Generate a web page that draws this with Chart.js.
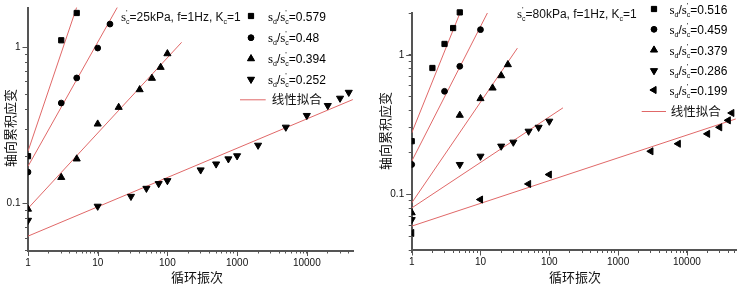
<!DOCTYPE html>
<html>
<head>
<meta charset="utf-8">
<script src="https://cdn.jsdelivr.net/npm/chart.js"></script>
<style>
  html, body { margin: 0; padding: 0; background: #fff; }
  #wrap { display: flex; width: 749px; height: 287px; }
  canvas { display: block; }
</style>
</head>
<body>
<div id="wrap">
  <canvas id="chart-25" width="375" height="287"></canvas>
  <canvas id="chart-80" width="374" height="287"></canvas>
</div>
<script>
// ---- 25 kPa panel (left) ----
const n579 = [1, 3, 5];
const e579 = [0.201, 1.11, 1.66];
const n480 = [1, 3, 5, 10, 15];
const e480 = [0.159, 0.44, 0.637, 0.99, 1.41];
const n394 = [1, 3, 5, 10, 20, 40, 60, 80, 100];
const e394 = [0.092, 0.147, 0.193, 0.323, 0.413, 0.536, 0.634, 0.745, 0.911];
const n252 = [1, 10, 30, 50, 75, 100, 300, 500, 750, 1000, 2000, 5000, 10000, 20000, 30000, 40000];
const e252 = [0.078, 0.096, 0.111, 0.125, 0.134, 0.140, 0.164, 0.179, 0.193, 0.202, 0.236, 0.308, 0.366, 0.424, 0.472, 0.515];

// fitted lines, end points
const fitN579 = [1, 5],     fitE579 = [0.216, 1.81];
const fitN480 = [1, 19.2],  fitE480 = [0.173, 1.81];
const fitN394 = [1, 160],   fitE394 = [0.093, 1.077];
const fitN252 = [1, 45700], fitE252 = [0.0618, 0.463];

// ---- 80 kPa panel (right) ----
const n516 = [1, 2, 3, 4, 5];
const e516 = [0.241, 0.807, 1.20, 1.56, 2.02];
const n459 = [1, 3, 5, 10];
const e459 = [0.164, 0.549, 0.83, 1.52];
const n379 = [1, 5, 10, 15, 20, 25];
const e379 = [0.074, 0.37, 0.487, 0.58, 0.711, 0.853];
const n286 = [1, 5, 10, 20, 30, 50, 70, 100];
const e286 = [0.066, 0.164, 0.188, 0.222, 0.237, 0.284, 0.303, 0.335];
const n199 = [1, 10, 50, 100, 3000, 7500, 20000, 30000, 40000, 45000];
const e199 = [0.053, 0.092, 0.119, 0.139, 0.204, 0.231, 0.272, 0.303, 0.34, 0.384];

const fitN516 = [1, 5.3],   fitE516 = [0.276, 2.13];
const fitN459 = [1, 12.6],  fitE459 = [0.173, 2.0];
const fitN379 = [1, 34.4],  fitE379 = [0.087, 1.12];
const fitN286 = [1, 158],   fitE286 = [0.080, 0.418];
const fitN199 = [1, 51300], fitE199 = [0.0593, 0.348];

const leftRatios = ['0.579', '0.48', '0.394', '0.252'];
const rightRatios = ['0.516', '0.459', '0.379', '0.286', '0.199'];

const xTitle = '循环振次';
const yTitle = '轴向累积应变';
const fitLabel = '线性拟合';

const axisColor = '#555';
const fitColor = '#e06868';
const SANS = '"Liberation Sans", Arial, sans-serif';
const SERIF = '"Liberation Serif", "DejaVu Serif", serif';
const CJK = '"Noto Sans CJK SC", sans-serif';

Chart.defaults.font.family = SANS;

const markers = {
  sq: { pointStyle: 'rect', radius: 3.7, rotation: 0 },
  ci: { pointStyle: 'circle', radius: 2.9, rotation: 0 },
  up: { pointStyle: 'triangle', radius: 4.1, rotation: 0 },
  dn: { pointStyle: 'triangle', radius: 4.1, rotation: 180 },
  lf: { pointStyle: 'triangle', radius: 4.1, rotation: 270 }
};

function pts(xs, ys) {
  return xs.map((x, i) => ({ x: x, y: ys[i] }));
}

function isDecade(v) {
  const l = Math.log10(v);
  return Math.abs(l - Math.round(l)) < 1e-9;
}

// 1..9 x 10^k marks inside [lo, hi]
function logMarks(lo, hi) {
  const out = [];
  for (let k = Math.floor(Math.log10(lo)); k <= Math.ceil(Math.log10(hi)); k++) {
    for (let m = 1; m <= 9; m++) {
      const v = +(m * Math.pow(10, k)).toPrecision(6);
      if (v >= lo - 1e-12 && v <= hi + 1e-12) out.push({ value: v });
    }
  }
  return out;
}

function scatterSet(xs, ys, m) {
  return {
    data: pts(xs, ys),
    showLine: false,
    pointStyle: m.pointStyle,
    pointRadius: m.radius,
    pointRotation: m.rotation,
    pointBackgroundColor: '#000',
    pointBorderColor: '#000',
    pointBorderWidth: 1,
    clip: { left: 0, top: false, right: false, bottom: false }
  };
}

function fitSet(xs, ys) {
  return {
    data: pts(xs, ys),
    showLine: true,
    pointRadius: 0,
    borderColor: fitColor,
    borderWidth: 1,
    clip: 0
  };
}

// draw text made of pieces (sub/superscripts)
function drawRich(ctx, x, y, parts) {
  let cx = x;
  parts.forEach(p => {
    ctx.font = p.font;
    ctx.fillText(p.t, cx, y + (p.dy || 0));
    if (!p.hold) cx += ctx.measureText(p.t).width;
  });
}

function sigmaC() {
  return [
    { t: 's', font: '13px ' + SERIF },
    { t: "'", font: '8px ' + SANS, dy: -6, hold: true },
    { t: 'c', font: '7px ' + SANS, dy: 3 }
  ];
}

function ratioParts(val) {
  return [
    { t: 's', font: '13px ' + SERIF },
    { t: 'd', font: '7px ' + SANS, dy: 3 },
    { t: '/', font: '12px ' + SANS }
  ].concat(sigmaC(), [{ t: '=' + val, font: '12px ' + SANS }]);
}

function conditionParts(p) {
  return sigmaC().concat([
    { t: '=' + p + 'kPa, f=1Hz, K', font: '12px ' + SANS },
    { t: 'c', font: '7px ' + SANS, dy: 3 },
    { t: '=1', font: '12px ' + SANS }
  ]);
}

const decorPlugin = {
  id: 'decor',
  afterDraw(chart, args, o) {
    const ctx = chart.ctx;
    const xs = chart.scales.x, ys = chart.scales.y;
    ctx.save();

    // longer marks at the decades
    ctx.strokeStyle = axisColor;
    ctx.lineWidth = 1;
    ctx.beginPath();
    xs.ticks.forEach(t => {
      if (!isDecade(t.value)) return;
      const px = Math.round(xs.getPixelForValue(t.value)) + 0.5;
      ctx.moveTo(px, xs.top);
      ctx.lineTo(px, xs.top + 5.5);
    });
    ys.ticks.forEach(t => {
      if (!isDecade(t.value)) return;
      const py = Math.round(ys.getPixelForValue(t.value)) + 0.5;
      ctx.moveTo(ys.right - 5.5, py);
      ctx.lineTo(ys.right, py);
    });
    ctx.stroke();

    // axis titles
    ctx.fillStyle = '#111';
    ctx.font = '13px ' + CJK;
    ctx.textAlign = 'center';
    ctx.textBaseline = 'middle';
    ctx.fillText(xTitle, o.xTitleX, 277);
    ctx.save();
    ctx.translate(10, o.yTitleY);
    ctx.rotate(-Math.PI / 2);
    ctx.fillText(yTitle, 0, 0);
    ctx.restore();

    // test condition
    ctx.textAlign = 'left';
    ctx.textBaseline = 'alphabetic';
    drawRich(ctx, o.condX, o.condY, conditionParts(o.pressure));

    // legend
    o.rows.forEach((row, i) => {
      const m = markers[row.marker];
      ctx.fillStyle = '#000';
      ctx.strokeStyle = '#000';
      ctx.lineWidth = 1;
      Chart.helpers.drawPoint(ctx, {
        pointStyle: m.pointStyle, radius: m.radius, rotation: m.rotation, borderWidth: 1
      }, o.legendX, row.y);
      ctx.fill();
      drawRich(ctx, o.labelX, row.y + 4.5, ratioParts(row.ratio));
    });
    ctx.strokeStyle = fitColor;
    ctx.lineWidth = 1;
    ctx.beginPath();
    ctx.moveTo(o.fitX0, o.fitY + 0.5);
    ctx.lineTo(o.fitX1, o.fitY + 0.5);
    ctx.stroke();
    ctx.fillStyle = '#111';
    ctx.font = '12.5px ' + CJK;
    ctx.textBaseline = 'middle';
    ctx.fillText(fitLabel, o.fitTextX, o.fitY);

    ctx.restore();
  }
};

function makePanel(id, p) {
  const ctx = document.getElementById(id).getContext('2d');
  return new Chart(ctx, {
    type: 'scatter',
    data: { datasets: p.datasets },
    options: {
      responsive: false,
      animation: false,
      devicePixelRatio: 1,
      layout: { padding: { top: p.top, right: p.right, left: 0, bottom: 0 } },
      plugins: {
        legend: { display: false },
        tooltip: { enabled: false },
        decor: p.decor
      },
      scales: {
        x: {
          type: 'logarithmic',
          min: 1,
          max: p.xMax,
          bounds: 'data',
          afterBuildTicks: s => { s.ticks = logMarks(1, p.xMax); },
          afterFit: s => {
            s.height = p.xAxisH;
            s.paddingLeft = 0; s.paddingRight = 0;
          },
          ticks: {
            autoSkip: false, maxRotation: 0, minRotation: 0, padding: 3.5,
            color: '#111', font: { size: 10 },
            callback: v => isDecade(v) ? String(v) : ''
          },
          grid: { drawOnChartArea: false, drawTicks: true, tickLength: 3, tickColor: axisColor, tickWidth: 1 },
          border: { display: true, color: axisColor, width: 2 }
        },
        y: {
          type: 'logarithmic',
          min: p.yMin,
          max: p.yMax,
          bounds: 'data',
          afterBuildTicks: s => { s.ticks = logMarks(p.yMin, p.yMax); },
          afterFit: s => {
            s.width = p.yAxisW;
            s.paddingTop = 0; s.paddingBottom = 0;
          },
          ticks: {
            autoSkip: false, padding: 4.5,
            color: '#111', font: { size: 10 },
            callback: v => isDecade(v) ? String(v) : ''
          },
          grid: { drawOnChartArea: false, drawTicks: true, tickLength: 3, tickColor: axisColor, tickWidth: 1 },
          border: { display: true, color: axisColor, width: 2 }
        }
      }
    },
    plugins: [decorPlugin]
  });
}

makePanel('chart-25', {
  xMax: 46000, yMin: 0.05, yMax: 1.8,
  top: 7.5, right: 22, xAxisH: 36.5, yAxisW: 28,
  datasets: [
    scatterSet(n579, e579, markers.sq),
    scatterSet(n480, e480, markers.ci),
    scatterSet(n394, e394, markers.up),
    scatterSet(n252, e252, markers.dn),
    fitSet(fitN579, fitE579),
    fitSet(fitN480, fitE480),
    fitSet(fitN394, fitE394),
    fitSet(fitN252, fitE252)
  ],
  decor: {
    xTitleX: 197, yTitleY: 128,
    condX: 121, condY: 21, pressure: '25',
    legendX: 251, labelX: 268,
    rows: [
      { marker: 'sq', y: 16, ratio: leftRatios[0] },
      { marker: 'ci', y: 37.7, ratio: leftRatios[1] },
      { marker: 'up', y: 58.7, ratio: leftRatios[2] },
      { marker: 'dn', y: 79.3, ratio: leftRatios[3] }
    ],
    fitY: 99.3, fitX0: 240, fitX1: 265.7, fitTextX: 271.7
  }
});

makePanel('chart-80', {
  xMax: 53000, yMin: 0.04, yMax: 2.0,
  top: 13, right: 12.3, xAxisH: 37, yAxisW: 36.7,
  datasets: [
    scatterSet(n516, e516, markers.sq),
    scatterSet(n459, e459, markers.ci),
    scatterSet(n379, e379, markers.up),
    scatterSet(n286, e286, markers.dn),
    scatterSet(n199, e199, markers.lf),
    fitSet(fitN516, fitE516),
    fitSet(fitN459, fitE459),
    fitSet(fitN379, fitE379),
    fitSet(fitN286, fitE286),
    fitSet(fitN199, fitE199)
  ],
  decor: {
    xTitleX: 200, yTitleY: 131,
    condX: 142, condY: 17.5, pressure: '80',
    legendX: 279, labelX: 294.5,
    rows: [
      { marker: 'sq', y: 9, ratio: rightRatios[0] },
      { marker: 'ci', y: 29.3, ratio: rightRatios[1] },
      { marker: 'up', y: 50, ratio: rightRatios[2] },
      { marker: 'dn', y: 70.7, ratio: rightRatios[3] },
      { marker: 'lf', y: 90, ratio: rightRatios[4] }
    ],
    fitY: 111, fitX0: 266.7, fitX1: 291, fitTextX: 295.7
  }
});
</script>
</body>
</html>
